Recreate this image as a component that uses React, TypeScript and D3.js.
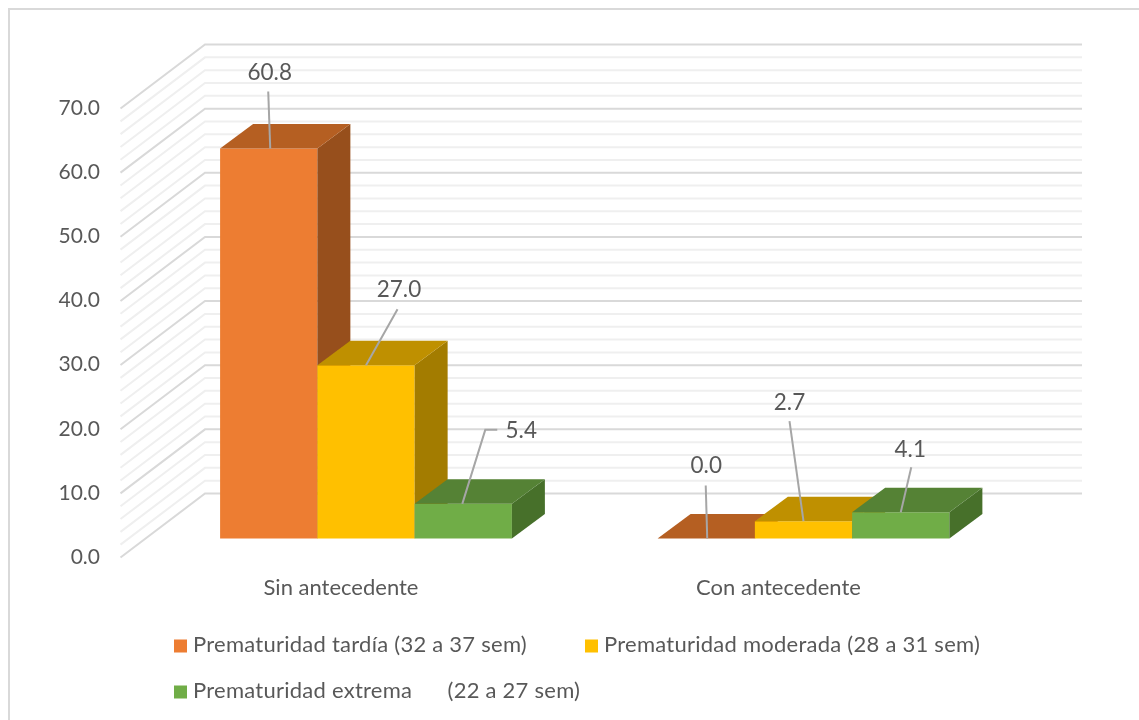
import React from "react";
import * as d3 from "d3";

const categories = ["Sin antecedente", "Con antecedente"];
const seriesNames = [
  "Prematuridad tardía (32 a 37 sem)",
  "Prematuridad moderada (28 a 31 sem)",
  "Prematuridad extrema\u00A0\u00A0\u00A0\u00A0\u00A0\u00A0(22 a 27 sem)",
];
const tardia = [60.8, 0.0];
const moderada = [27.0, 2.7];
const extrema = [5.4, 4.1];
const seriesValues = [tardia, moderada, extrema];
const majorTicks = [0, 10, 20, 30, 40, 50, 60, 70];
const gridTicks = d3.range(0, 72, 2);

const frontColors = ["#ED7D31", "#FFC000", "#70AD47"];
const topColors = ["#B55E22", "#BF9000", "#548235"];
const sideColors = ["#97501B", "#A37B00", "#47702C"];

const FONT = "Lato, Carlito, sans-serif";
const TEXT = "#595959";
const DX = 33;
const DY = -24.5;
const WALL_DX = 84.5;
const WALL_DY = 64;

// label centre and optional leader start, relative to the top-centre of the bar front
const leaders: { label: [number, number]; start: [number, number]; elbow?: [number, number]; end: number }[][] = [
  [
    { label: [1, -74], start: [-0.5, -57], end: 1.5 },
    { label: [33, -74], start: [31.5, -56], end: 0 },
    { label: [58, -72], start: [34, -74], elbow: [22, -74], end: -1 },
  ],
  [
    { label: [0, -71], start: [-0.5, -53], end: 1 },
    { label: [-14, -117], start: [-14, -100], end: 0 },
    { label: [9.5, -61], start: [10.5, -45], end: 0 },
  ],
];

export default function App() {
  const yBack = d3.scaleLinear().domain([0, 70]).range([493.5, 44.5]);
  const yFront = (v: number) => yBack(v) + 45;
  const xGroup = d3
    .scaleBand<string>()
    .domain(categories)
    .range([147.25, 1022.25])
    .paddingInner(0.333)
    .paddingOuter(0.1665);
  const xBar = d3
    .scaleBand<number>()
    .domain(d3.range(seriesNames.length))
    .range([0, xGroup.bandwidth()]);
  const w = xBar.bandwidth();

  const poly = (pts: [number, number][]) => d3.line()(pts)! + "Z";

  return (
    <svg
      width={1139}
      height={720}
      style={{ position: "absolute", left: 0, top: 0, display: "block", background: "#fff" }}
      fontFamily={FONT}
    >
      <defs>
        <filter id="soft" x="-5%" y="-5%" width="110%" height="110%">
          <feGaussianBlur stdDeviation="0.45" />
        </filter>
      </defs>
      <g filter="url(#soft)">
        <path d="M9 720V9H1139" fill="none" stroke="#d9d9d9" strokeWidth={2} />

        {gridTicks.map((t) => {
          const major = t % 10 === 0;
          const y = yBack(t);
          const pts: [number, number][] = [
            [205 - WALL_DX, y + WALL_DY],
            [205, y],
            [1082, y],
          ];
          return (
            <path
              key={t}
              d={d3.line()(pts)!}
              fill="none"
              stroke={major ? "#d9d9d9" : "#efefef"}
              strokeWidth={2}
            />
          );
        })}

        {majorTicks.map((t) => (
          <text
            key={t}
            x={100}
            y={yBack(t) + WALL_DY + 1}
            textAnchor="end"
            dominantBaseline="middle"
            fontSize={21}
            fill={TEXT}
          >
            {t.toFixed(1)}
          </text>
        ))}

        {categories.map((c, ci) =>
          seriesValues.map((vals, si) => {
            const x0 = xGroup(c)! + xBar(si)!;
            const x1 = x0 + w;
            const base = yFront(0);
            const top = yFront(vals[ci]);
            return (
              <g key={c + si}>
                {vals[ci] > 0 && (
                  <path
                    d={poly([[x0, top], [x1, top], [x1, base], [x0, base]])}
                    fill={frontColors[si]}
                  />
                )}
                <path
                  d={poly([[x1, top], [x1 + DX, top + DY], [x1 + DX, base + DY], [x1, base]])}
                  fill={vals[ci] > 0 ? sideColors[si] : topColors[si]}
                />
                <path
                  d={poly([[x0, top], [x0 + DX, top + DY], [x1 + DX, top + DY], [x1, top]])}
                  fill={topColors[si]}
                />
              </g>
            );
          })
        )}

        {categories.map((c, ci) =>
          seriesValues.map((vals, si) => {
            const cx = xGroup(c)! + xBar(si)! + w / 2;
            const top = yFront(vals[ci]);
            const l = leaders[ci][si];
            const pts: [number, number][] = [[cx + l.start[0], top + l.start[1]]];
            if (l.elbow) pts.push([cx + l.elbow[0], top + l.elbow[1]]);
            pts.push([cx + l.end, top]);
            return (
              <g key={c + si}>
                <path d={d3.line()(pts)!} fill="none" stroke="#a6a6a6" strokeWidth={2} />
                <text
                  x={cx + l.label[0]}
                  y={top + l.label[1]}
                  textAnchor="middle"
                  dominantBaseline="middle"
                  fontSize={22.5}
                  fill={TEXT}
                >
                  {vals[ci].toFixed(1)}
                </text>
              </g>
            );
          })
        )}

        {categories.map((c) => (
          <text
            key={c}
            x={xGroup(c)! + xGroup.bandwidth() / 2 - 25}
            y={589}
            textAnchor="middle"
            dominantBaseline="middle"
            fontSize={22}
            fill={TEXT}
          >
            {c}
          </text>
        ))}

        {seriesNames.map((s, i) => {
          const lx = i === 1 ? 585 : 174;
          const ly = i === 2 ? 692 : 646;
          return (
            <g key={s}>
              <rect x={lx} y={ly - 6.5} width={13} height={13} fill={frontColors[i]} />
              <text
                x={lx + 19}
                y={ly + 0.5}
                dominantBaseline="middle"
                fontSize={22}
                letterSpacing={0.25}
                fill={TEXT}
              >
                {s}
              </text>
            </g>
          );
        })}
      </g>
    </svg>
  );
}
